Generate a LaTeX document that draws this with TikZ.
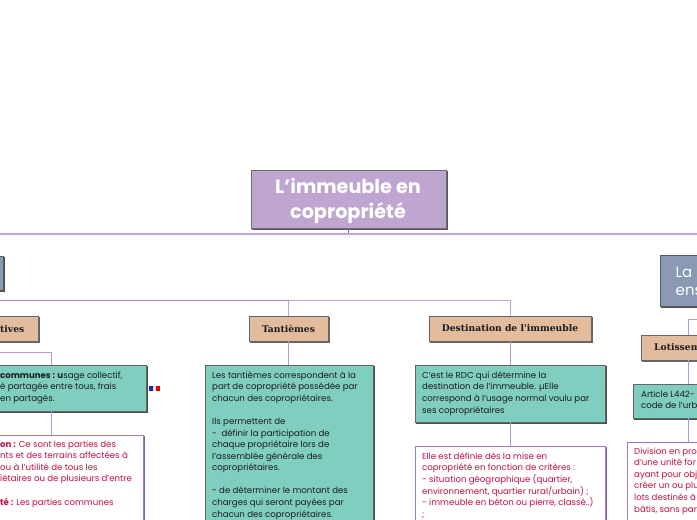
\documentclass[tikz,border=0pt]{standalone}
\usepackage{fontspec}
\setmainfont{Poppins}
\newfontfamily\slab{DejaVu Serif}
\usetikzlibrary{shadows}
\definecolor{titlec}{HTML}{BFA6D1}
\definecolor{greyb}{HTML}{8A9AB5}
\definecolor{tan}{HTML}{E2BC9C}
\definecolor{teal}{HTML}{7FCEBF}
\definecolor{crim}{HTML}{C4103E}
\definecolor{lineA}{HTML}{C4A4E4}
\definecolor{lineB}{HTML}{A57BCB}
\definecolor{ink}{HTML}{1C1C1C}
\newcommand\bx[6]{\node[#2,minimum width={(#5-#3)*1pt},minimum height={(#6-#4)*1pt}] (#1) at ({(#3+#5)/2},{(#4+#6)/2}) {};}
\tikzset{
  x=1pt,y=-1pt,
  base/.style={draw=#1,line width=.9pt,inner sep=0pt,outer sep=0pt,rectangle},
  titlebox/.style={base=gray!85!black,fill=titlec,copy shadow={shadow xshift=1.6pt,shadow yshift=-1.6pt,fill=black!65,draw=black!65}},
  secbox/.style={base=black!65,fill=greyb,copy shadow={shadow xshift=1.8pt,shadow yshift=-1.8pt,fill=black!70,draw=black!70}},
  tanbox/.style={base=gray!80!black,fill=tan,copy shadow={shadow xshift=1.6pt,shadow yshift=-1.6pt,fill=black!60,draw=black!60}},
  tealbox/.style={base=gray!80!black,fill=teal,copy shadow={shadow xshift=1.6pt,shadow yshift=-1.6pt,fill=black!70,draw=black!70}},
  whitebox/.style={base=lineB,fill=white,copy shadow={shadow xshift=1.3pt,shadow yshift=-1.3pt,fill=lineB!80!black,draw=lineB!80!black}},
  lev1/.style={draw=lineA,line width=1.5pt},
  lev2/.style={draw=lineB,line width=.9pt,opacity=.7},
  lev3/.style={draw=lineA!60!lineB,line width=.9pt},
  body/.style={anchor=north west,inner sep=0pt,align=left,font=\fontsize{8.6}{11.55}\selectfont},
  inkt/.style={body,text=ink},
  crimt/.style={body,text=crim},
  head/.style={inner sep=0pt,font=\slab\bfseries\fontsize{9.2}{10}\selectfont,text=ink},
}
\begin{document}
\begin{tikzpicture}
\useasboundingbox (0,0) rectangle (697,520);
\clip (0,0) rectangle (697,520);
\fill[white] (0,0) rectangle (697,520);
% boxes
\bx{title}{titlebox}{251}{170}{446}{228}
\bx{lgray}{secbox}{-100}{256}{3}{290}
\bx{rgray}{secbox}{660}{255}{780}{306}
\bx{tives}{tanbox}{-100}{316}{38}{341}
\bx{tant}{tanbox}{249}{316}{328}{341}
\bx{dest}{tanbox}{429}{316}{591}{341}
\bx{lot}{tanbox}{641}{335}{735}{360}
\bx{commg}{tealbox}{-44}{365}{146}{411}
\bx{tantg}{tealbox}{205}{365}{373}{540}
\bx{destg}{tealbox}{415}{365}{605}{422}
\bx{lotg}{tealbox}{633}{384}{743}{418}
\bx{commw}{whitebox}{-41}{435}{143}{540}
\bx{destw}{whitebox}{415}{446}{605}{540}
\bx{lotw}{whitebox}{627}{442}{749}{540}
% connectors
\draw[lev1] (title.south) -- ++(0,6) -| (lgray.north);
\draw[lev1] (title.south) -- ++(0,6) -| (rgray.north);
\draw[draw=black!55,line width=.7pt] (title.south) -- ++(0,4.8);
\draw[lev2] (lgray.south) -- ++(0,10) -| (tives.north);
\draw[lev2] (lgray.south) -- ++(0,10) -| (tant.north);
\draw[lev2] (lgray.south) -- ++(0,10) -| (dest.north);
\draw[lev3] (rgray.south) -- ++(0,13.5) -| (lot.north);
\draw[lev3] (tives.south) -- ++(0,11.5) -| (commg.north);
\draw[lev3] (commg.south) -- (commw.north -| commg.south);
\draw[lev3] (tant.south) -- (tantg.north -| tant.south);
\draw[lev3] (dest.south) -- (destg.north -| dest.south);
\draw[lev3] (destg.south) -- (destw.north -| destg.south);
\draw[lev3] (lot.south) -- (lotg.north -| lot.south);
\draw[lev3] (lotg.south) -- (lotw.north -| lotg.south);
% flag
\fill[blue!60!black!85] (149,386) rectangle (153,391);
\fill[white!88!black] (153,386) rectangle (156,391);
\fill[red!90!black] (156,386) rectangle (160,391);
% text
\node[font=\bfseries\fontsize{19.2}{24.5}\selectfont,text=white,align=center,inner sep=0pt] (titlet) at (348,201) {L’immeuble en\\copropriété};
\node[anchor=west,inner sep=0pt,font=\fontsize{15}{18}\selectfont,text=white,align=left] (rgrayt) at (675.5,281) {La\\ens};
\node[head,anchor=west] (tivest) at (0,329) {tives};
\node[head] (tantt) at (tant.center) {Tantièmes};
\node[head] (destt) at (dest.center) {Destination de l'immeuble};
\node[head,anchor=west] (lott) at (654,347.5) {Lotissem};
\node[inkt] (commt) at (0,371.5) {\textbf{communes : u}sage collectif,\\é partagée entre tous, frais\\en partagés.};
\node[inkt] (tantb) at (212,371.5) {Les tantièmes correspondent à la\\part de copropriété possédée par\\chacun des copropriétaires.\\[11.55pt]Ils permettent de\\-\ \ définir la participation de\\chaque propriétaire lors de\\l’assemblée générale des\\copropriétaires.\\[11.55pt]- de déterminer le montant des\\charges qui seront payées par\\chacun des copropriétaires.};
\node[inkt] (destb) at (422,371.5) {C’est le RDC qui détermine la\\destination de l’immeuble. µElle\\correspond à l’usage normal voulu par\\ses copropriétaires};
\node[inkt] (lotb) at (641,390.5) {Article L442-\\code de l’urb};
\node[crimt] (commc) at (0,440.5) {\textbf{on :} Ce sont les parties des\\nts et des terrains affectées à\\ou à l’utilité de tous les\\iétaires ou de plusieurs d’entre\\[11.55pt]\textbf{té :} Les parties communes};
\node[crimt] (destc) at (422,452.5) {Elle est définie dès la mise en\\copropriété en fonction de critères :\\- situation géographique (quartier,\\environnement, quartier rural/urbain) ;\\- immeuble en béton ou pierre, classé..)\\;};
\node[crimt] (lotc) at (634,447.5) {Division en pro\\d’une unité for\\ayant pour obj\\créer un ou plu\\lots destinés à\\bâtis, sans par};
\end{tikzpicture}
\end{document}
